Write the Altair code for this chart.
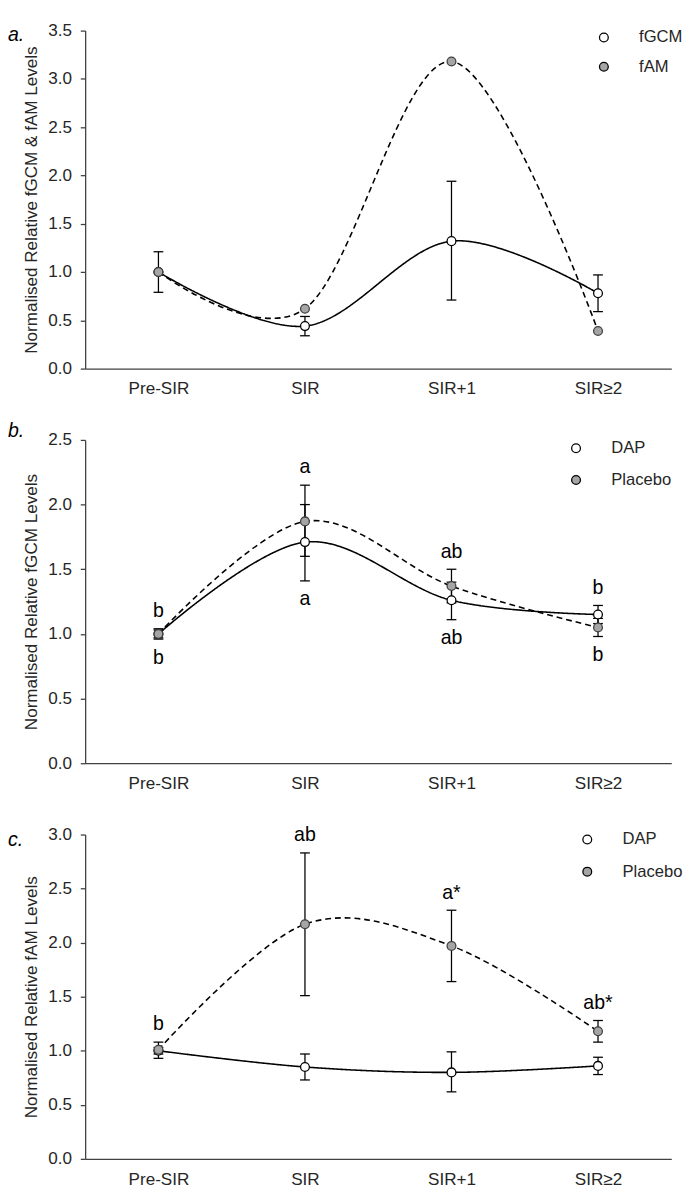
import altair as alt
import pandas as pd

FONT = "Liberation Sans"
cats = ["Pre-SIR", "SIR", "SIR+1", "SIR≥2"]

# ---- panel a ----
a_names = ["fGCM", "fAM"]
a_fgcm = [1.00, 0.44, 1.32, 0.78]
a_fgcm_lo = [0.79, 0.34, 0.71, 0.59]
a_fgcm_hi = [1.21, 0.54, 1.94, 0.97]
a_fam = [1.00, 0.62, 3.18, 0.39]

# ---- panel b ----
b_names = ["DAP", "Placebo"]
b_dap = [1.00, 1.71, 1.26, 1.15]
b_dap_lo = [0.97, 1.41, 1.11, 1.08]
b_dap_hi = [1.03, 2.00, 1.40, 1.22]
b_pla = [1.00, 1.87, 1.37, 1.05]
b_pla_lo = [0.96, 1.60, 1.24, 0.98]
b_pla_hi = [1.04, 2.15, 1.50, 1.12]
b_top = ["b", "a", "ab", "b"]
b_bottom = ["b", "a", "ab", "b"]

# ---- panel c ----
c_names = ["DAP", "Placebo"]
c_dap = [1.00, 0.85, 0.80, 0.86]
c_dap_lo = [0.97, 0.73, 0.62, 0.78]
c_dap_hi = [1.03, 0.97, 0.99, 0.94]
c_pla = [1.01, 2.17, 1.97, 1.18]
c_pla_lo = [0.93, 1.51, 1.64, 1.08]
c_pla_hi = [1.08, 2.83, 2.30, 1.28]
c_top = ["b", "ab", "a*", "ab*"]
c_bottom = ["", "", "", ""]

CODES = ["s1", "s2"]
AX = "#404040"


def build(names, vals, los, his):
    rows = []
    for k, (name, v, lo, hi) in enumerate(zip(names, vals, los, his)):
        for i, c in enumerate(cats):
            rows.append({"cat": c, "series": CODES[k], "name": name, "order": i, "value": v[i],
                         "lo": None if lo is None else lo[i],
                         "hi": None if hi is None else hi[i]})
    return pd.DataFrame(rows)


def annotations(los, his, top, bottom):
    rows = []
    for i, c in enumerate(cats):
        ls = [l[i] for l in los if l is not None]
        hs = [h[i] for h in his if h is not None]
        rows.append({"cat": c, "top": top[i], "top_y": max(hs),
                     "bottom": bottom[i], "bottom_y": min(ls)})
    return pd.DataFrame(rows)


def panel(tag, tag_offset, ytitle, ymax, height, names, df, ann, leg):
    xenc = alt.X("cat:N", sort=cats,
                 scale=alt.Scale(type="point", domain=cats, padding=0.5),
                 axis=alt.Axis(title=None, labelAngle=0, ticks=False, labelPadding=12,
                               labelFont=FONT, labelFontSize=17.5, labelColor="#262626",
                               domainColor=AX, domainWidth=1.3, grid=False))
    ysc = alt.Scale(domain=[0, ymax], nice=False, zero=True)
    vals = [round(0.5 * k, 1) for k in range(int(ymax / 0.5) + 1)]
    yaxis = alt.Axis(title=ytitle, values=vals, format=".1f", grid=False,
                     labelFont=FONT, labelFontSize=17.5, labelColor="#262626",
                     labelPadding=9, tickSize=5, tickColor=AX, tickWidth=1.3,
                     domainColor=AX, domainWidth=1.3,
                     titleFont=FONT, titleFontSize=17.5, titleFontWeight="normal",
                     titleColor="#262626", titlePadding=7)

    def Y(field):
        return alt.Y(field, type="quantitative", scale=ysc, axis=yaxis, title=ytitle)

    base = alt.Chart(df)
    lines = base.mark_line(interpolate="cardinal", color="black", strokeWidth=1.6).encode(
        x=xenc, y=Y("value"),
        strokeDash=alt.StrokeDash("series:N", scale=alt.Scale(domain=CODES, range=[[1, 0], [6, 4]]),
                                  legend=None),
        order="order:Q")
    eb = base.transform_filter("isValid(datum.lo)")
    rules = eb.mark_rule(color="black", strokeWidth=1.3).encode(
        x=xenc, y=Y("lo"), y2="hi:Q")
    cap_lo = eb.mark_tick(color="black", thickness=1.3, size=10, opacity=1).encode(
        x=xenc, y=Y("lo"))
    cap_hi = eb.mark_tick(color="black", thickness=1.3, size=10, opacity=1).encode(
        x=xenc, y=Y("hi"))
    pts = base.mark_point(filled=True, size=81, strokeWidth=1.3, opacity=1).encode(
        x=xenc, y=Y("value"),
        fill=alt.Fill("series:N", scale=alt.Scale(domain=CODES, range=["white", "#a5a5a5"]),
                      legend=leg, title=None),
        stroke=alt.Stroke("series:N", scale=alt.Scale(domain=CODES, range=["black", "#404040"]),
                          legend=None, title=None))
    layers = [lines, rules, cap_lo, cap_hi, pts]
    if ann is not None:
        at = alt.Chart(ann)
        top = at.transform_filter("datum.top != ''").mark_text(
            font=FONT, fontSize=20, color="black", dy=-18, baseline="middle").encode(
            x=xenc, y=Y("top_y"), text="top:N")
        bot = at.transform_filter("datum.bottom != ''").mark_text(
            font=FONT, fontSize=20, color="black", dy=19, baseline="middle").encode(
            x=xenc, y=Y("bottom_y"), text="bottom:N")
        layers += [top, bot]
    return alt.layer(*layers).properties(
        width=600, height=height,
        title=alt.TitleParams(text=tag, anchor="start", frame="group", orient="top",
                              font=FONT, fontSize=20, fontStyle="italic", fontWeight="normal",
                              color="black", dx=-79, offset=tag_offset))


def label_expr(names):
    return "datum.value === 's1' ? '" + names[0] + "' : '" + names[1] + "'"


def legend(names, **kw):
    return alt.Legend(title=None, labelExpr=label_expr(names),
                      labelFont=FONT, labelFontSize=17, labelColor="#262626",
                      symbolSize=81, labelOffset=27.5,
                      symbolStrokeWidth=1.3, symbolStrokeColor="black", **kw)


da = build(a_names, [a_fgcm, a_fam], [a_fgcm_lo, None], [a_fgcm_hi, None])
db = build(b_names, [b_dap, b_pla], [b_dap_lo, b_pla_lo], [b_dap_hi, b_pla_hi])
dc = build(c_names, [c_dap, c_pla], [c_dap_lo, c_pla_lo], [c_dap_hi, c_pla_hi])
ab = annotations([b_dap_lo, b_pla_lo], [b_dap_hi, b_pla_hi], b_top, b_bottom)
ac = annotations([c_dap_lo, c_pla_lo], [c_dap_hi, c_pla_hi], c_top, c_bottom)

leg_a = legend(a_names, orient="none", legendX=522.5, legendY=-1.5, rowPadding=12)
leg_b = legend(b_names, orient="top-right", offset=0, rowPadding=14.5)
leg_c = legend(c_names, orient="none", legendX=505.5, legendY=-3.5, rowPadding=15)

pa = panel("a.", -24, "Normalised Relative fGCM & fAM Levels", 3.5, 346, a_names, da, None, leg_a)
pb = panel("b.", -10, "Normalised Relative fGCM Levels", 2.5, 331, b_names, db, ab, leg_b)
pc = panel("c.", -25, "Normalised Relative fAM Levels", 3.0, 332, c_names, dc, ac, leg_c)

chart = alt.vconcat(pa, pb, pc, spacing=73, bounds="flush").properties(
    padding={"left": 0, "top": 0, "right": 0, "bottom": 0}
).configure_view(stroke=None)

chart.save("out.html", embed_options={"renderer": "svg", "actions": False})
